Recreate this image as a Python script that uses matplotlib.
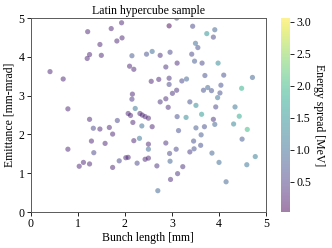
import matplotlib
matplotlib.use('Agg')
import matplotlib.pyplot as plt

plt.rcParams['font.family'] = ['Liberation Serif', 'DejaVu Serif']

# bunch length [mm], emittance [mm-mrad], energy spread [MeV]
bunch = [0.41, 0.69, 0.79, 1.21, 1.25, 1.20, 1.47, 1.50, 1.71, 1.93,
         1.94, 1.83, 2.15, 2.46, 2.10, 2.19, 2.16, 2.15, 2.22, 3.10,
         2.94, 3.44, 3.74, 3.91, 3.88, 3.50, 3.55, 2.58, 2.75, 2.96,
         3.42, 3.48, 3.64, 3.98, 3.11, 2.87, 3.70, 4.10, 4.71, 2.94,
         2.56, 2.72, 3.21, 3.31, 2.94, 3.67, 3.76, 3.84, 4.04, 4.02,
         4.48, 3.01, 3.10, 3.97, 2.87, 2.75, 3.38, 3.51, 2.92, 3.93,
         4.34, 0.79, 1.25, 1.33, 1.47, 1.67, 1.74, 1.84, 1.29, 1.58,
         1.34, 1.12, 1.03, 1.25, 1.74, 1.88, 2.02, 2.07, 2.26, 2.07,
         2.12, 2.32, 2.37, 2.43, 2.50, 2.17, 2.36, 2.19, 2.31, 2.50,
         2.50, 2.43, 2.50, 2.58, 3.11, 3.30, 3.63, 3.88, 3.91, 3.51,
         3.69, 3.62, 3.14, 4.31, 4.43, 4.60, 4.49, 2.87, 3.46, 3.47,
         3.38, 3.61, 3.09, 2.95, 3.85, 2.68, 2.96, 3.23, 3.12, 2.97,
         4.00, 4.77, 4.59, 4.15, 2.70]
emittance = [3.62, 3.43, 2.66, 4.65, 4.06, 3.96, 4.32, 4.04, 4.73, 4.88,
             4.49, 4.41, 4.03, 4.07, 3.76, 3.68, 3.04, 2.91, 2.67, 5.00,
             4.80, 4.79, 4.60, 4.70, 4.51, 4.35, 4.24, 4.14, 4.04, 4.12,
             4.07, 3.89, 3.84, 3.84, 3.84, 3.74, 3.52, 3.53, 3.47, 3.45,
             3.37, 3.42, 3.38, 3.43, 3.29, 3.14, 3.21, 3.13, 3.27, 3.07,
             3.19, 3.06, 3.14, 2.95, 2.92, 2.84, 2.84, 2.75, 2.70, 2.71,
             2.71, 1.62, 2.39, 2.16, 2.14, 2.18, 2.01, 2.36, 1.83, 1.77,
             1.53, 1.28, 1.18, 1.24, 1.15, 1.32, 1.40, 1.41, 1.26, 2.54,
             2.49, 2.54, 2.50, 2.46, 2.42, 2.31, 2.22, 1.84, 1.90, 1.75,
             1.62, 1.36, 1.39, 2.20, 2.46, 2.44, 2.52, 2.39, 2.26, 2.17,
             2.20, 1.99, 2.10, 2.27, 2.47, 2.13, 1.88, 1.78, 1.83, 1.63,
             1.55, 1.72, 1.62, 1.51, 1.52, 1.19, 1.31, 1.17, 0.99, 0.84,
             1.28, 1.43, 1.22, 0.78, 0.55]
spread = [0.30, 0.30, 0.30, 0.30, 0.30, 0.30, 0.30, 0.30, 0.30, 0.30,
          0.30, 0.30, 0.80, 0.70, 0.30, 0.30, 0.30, 0.45, 1.10, 0.70,
          0.05, 0.60, 1.50, 0.90, 0.60, 1.00, 0.70, 1.00, 0.40, 0.60,
          0.60, 0.80, 0.60, 1.40, 0.35, 0.40, 0.70, 0.70, 0.90, 0.40,
          0.30, 0.30, 0.60, 0.90, 0.60, 0.70, 0.90, 0.70, 0.70, 0.70,
          1.90, 0.40, 0.40, 1.10, 0.35, 0.40, 0.70, 1.40, 0.35, 0.60,
          1.10, 0.30, 0.30, 0.60, 0.30, 0.30, 0.30, 0.60, 0.30, 0.30,
          0.60, 0.30, 0.30, 0.30, 0.30, 0.60, 0.30, 0.30, 0.60, 0.30,
          0.30, 0.30, 0.30, 0.30, 0.30, 0.30, 1.00, 0.30, 1.10, 0.30,
          1.00, 0.30, 0.30, 0.30, 0.70, 1.40, 1.60, 0.40, 0.90, 0.80,
          0.70, 0.80, 0.70, 1.30, 1.80, 2.00, 0.80, 0.40, 0.70, 0.70,
          0.50, 0.70, 0.60, 0.60, 0.90, 0.40, 0.90, 0.40, 0.40, 0.35,
          1.00, 1.20, 1.10, 0.90, 0.90]

fig = plt.figure(figsize=(3.32, 2.48), dpi=100)
ax = fig.add_axes([0.0925, 0.145, 0.709, 0.782])
cax = fig.add_axes([0.846, 0.145, 0.027, 0.782])

sc = ax.scatter(bunch, emittance, c=spread, cmap='viridis', vmin=0.03, vmax=3.06,
                s=14, alpha=0.5, edgecolors='none')
ax.set_xlim(0, 5)
ax.set_ylim(0, 5)
ax.set_xlabel('Bunch length [mm]', fontsize=8.5, labelpad=1)
ax.set_ylabel('Emittance [mm-mrad]', fontsize=8.5, labelpad=2)
ax.set_title('Latin hypercube sample', fontsize=8.5, pad=3)
ax.tick_params(labelsize=8.5, length=3, width=0.6, pad=1.5)
for s in ax.spines.values():
    s.set_linewidth(0.7)
    s.set_color('0.35')

cb = fig.colorbar(sc, cax=cax)
cb.outline.set_visible(False)
cb.ax.tick_params(labelsize=8.5, length=3, width=0.6, pad=1.5)
cb.set_label('Energy spread [MeV]', fontsize=8.5, rotation=270, labelpad=10)

fig.savefig('out.png', dpi=100)
